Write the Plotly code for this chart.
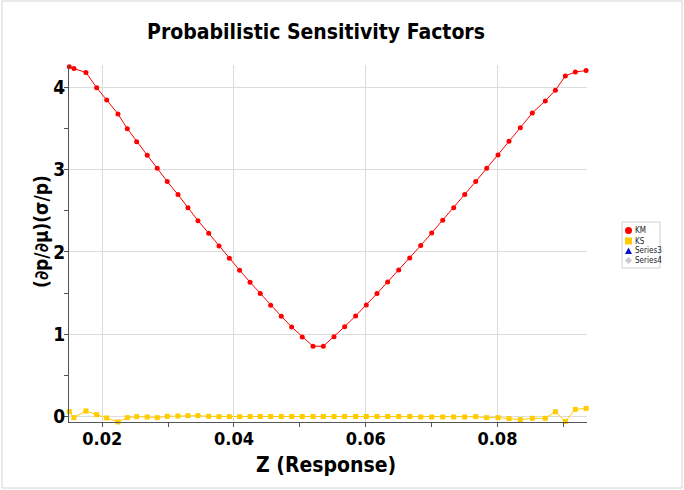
import plotly.graph_objects as go

# Response values (Z) shared by both sensitivity series
z_response = [
    0.01499, 0.01570, 0.01752, 0.01915, 0.02067, 0.02238, 0.02380, 0.02522, 0.02683, 0.02835,
    0.02987, 0.03150, 0.03301, 0.03453, 0.03616, 0.03772, 0.03930, 0.04085, 0.04244, 0.04399,
    0.04557, 0.04718, 0.04876, 0.05037, 0.05200, 0.05356, 0.05519, 0.05680, 0.05847, 0.06009,
    0.06171, 0.06333, 0.06501, 0.06668, 0.06835, 0.07002, 0.07169, 0.07336, 0.07503, 0.07670,
    0.07837, 0.08009, 0.08176, 0.08348, 0.08530, 0.08727, 0.08880, 0.09031, 0.09183, 0.09346,
]

km_values = [
    4.250, 4.226, 4.180, 3.995, 3.846, 3.676, 3.497, 3.339, 3.174, 3.016,
    2.854, 2.696, 2.538, 2.380, 2.227, 2.073, 1.923, 1.778, 1.632, 1.494,
    1.353, 1.219, 1.089, 0.968, 0.855, 0.855, 0.971, 1.093, 1.223, 1.356,
    1.494, 1.636, 1.781, 1.927, 2.077, 2.231, 2.385, 2.538, 2.696, 2.854,
    3.016, 3.178, 3.344, 3.509, 3.688, 3.834, 3.964, 4.137, 4.186, 4.202,
]

ks_values = [
    0.061, -0.012, 0.069, 0.024, -0.016, -0.064, -0.012, 0.000, -0.004, -0.012,
    0.004, 0.008, 0.012, 0.012, 0.004, 0.000, 0.000, 0.000, 0.002, 0.002,
    0.002, 0.002, 0.002, 0.002, 0.002, 0.002, 0.002, 0.002, 0.002, 0.002,
    0.002, 0.002, 0.002, 0.002, -0.004, -0.004, -0.004, -0.004, -0.004, 0.000,
    -0.012, -0.012, -0.024, -0.036, -0.020, -0.020, 0.060, -0.058, 0.088, 0.100,
]

x_ticks = [0.02, 0.04, 0.06, 0.08]
y_ticks = [0, 1, 2, 3, 4]

# Legend entries
legend_names = ["KM", "KS", "Series3", "Series4"]
legend_colors = ["#ff0000", "#ffcc00", "#1010d0", "#c8c8c8"]
legend_symbols = ["circle", "square", "triangle", "diamond"]

FONT = "DejaVu Sans Condensed, DejaVu Sans, sans-serif"
RED = legend_colors[0]
GOLD = legend_colors[1]

# Plot-area geometry in pixels, used to place the frame and the legend box
L, R, T, B = 69, 587, 65, 422
W, H = R - L, B - T


def px(xp):
    return (xp - L) / W


def py(yp):
    return (B - yp) / H


fig = go.Figure()

fig.add_trace(go.Scatter(
    x=z_response, y=km_values, mode="lines+markers", name="KM",
    line=dict(color=RED, width=1), marker=dict(color=RED, size=5, symbol="circle"),
    cliponaxis=False,
))
fig.add_trace(go.Scatter(
    x=z_response, y=ks_values, mode="lines+markers", name="KS",
    line=dict(color=GOLD, width=1), marker=dict(color=GOLD, size=5, symbol="square"),
    cliponaxis=False,
))

fig.update_layout(
    width=684, height=490,
    margin=dict(l=L, r=684 - R, t=T, b=490 - B),
    paper_bgcolor="white", plot_bgcolor="white",
    font=dict(family=FONT, color="black"),
    title=dict(
        text="<b>Probabilistic Sensitivity Factors</b>",
        x=316 / 684, xref="container", xanchor="center",
        y=1 - 32 / 490, yref="container", yanchor="middle",
        font=dict(size=21, family=FONT),
    ),
    showlegend=False,
    xaxis=dict(
        range=[0.01495, 0.0936], tickvals=x_ticks,
        ticktext=[f"<b>{v:.2f}</b>" for v in x_ticks],
        tickfont=dict(size=18, family=FONT),
        ticklabelstandoff=-4,
        showgrid=True, gridcolor="#dcdcdc", gridwidth=1,
        showline=True, linecolor="#555555", linewidth=1,
        ticks="outside", ticklen=4, tickcolor="#555555",
        minor=dict(dtick=0.01, tick0=0.0, ticks="outside", ticklen=4,
                   tickcolor="#555555", showgrid=False),
        zeroline=False,
    ),
    yaxis=dict(
        range=[-0.065, 4.27], tickvals=y_ticks,
        ticktext=[f"<b>{v}</b>" for v in y_ticks],
        tickfont=dict(size=19, family=FONT),
        ticklabelstandoff=-5,
        showgrid=True, gridcolor="#dcdcdc", gridwidth=1,
        showline=True, linecolor="#555555", linewidth=1,
        ticks="outside", ticklen=4, tickcolor="#555555",
        minor=dict(dtick=0.5, tick0=0.0, ticks="outside", ticklen=4,
                   tickcolor="#555555", showgrid=False),
        zeroline=False,
    ),
)

# Axis titles
fig.add_annotation(
    text="<b>Z (Response)</b>", xref="paper", yref="paper",
    x=px(326), y=py(465), xanchor="center", yanchor="middle",
    showarrow=False, font=dict(size=21, family=FONT),
)
fig.add_annotation(
    text="<b>(∂p/∂μ)(σ/p)</b>", xref="paper", yref="paper",
    x=px(41), y=py(232), xanchor="center", yanchor="middle",
    textangle=-90, showarrow=False, font=dict(size=19, family=FONT),
)

# Compact legend box on the right
fig.add_shape(
    type="rect", xref="paper", yref="paper",
    x0=px(622), x1=px(660), y0=py(268), y1=py(222),
    line=dict(color="#d0d0d0", width=1), fillcolor="white",
)
legend_rows = [230.5, 241, 251, 260.5]
legend_key_x = 628.5
for name, color, symbol, row in zip(legend_names, legend_colors, legend_symbols, legend_rows):
    cx, cy = legend_key_x, row
    if symbol == "circle":
        fig.add_shape(type="circle", xref="paper", yref="paper",
                      x0=px(cx - 3.5), x1=px(cx + 3.5), y0=py(cy + 3.5), y1=py(cy - 3.5),
                      line=dict(width=0), fillcolor=color)
    elif symbol == "square":
        fig.add_shape(type="rect", xref="paper", yref="paper",
                      x0=px(cx - 3.5), x1=px(cx + 3.5), y0=py(cy + 3.5), y1=py(cy - 3.5),
                      line=dict(width=0), fillcolor=color)
    elif symbol == "triangle":
        path = (f"M {px(cx - 3.5)} {py(cy + 3)} L {px(cx + 3.5)} {py(cy + 3)} "
                f"L {px(cx)} {py(cy - 3.5)} Z")
        fig.add_shape(type="path", xref="paper", yref="paper", path=path,
                      line=dict(width=0), fillcolor=color)
    else:
        path = (f"M {px(cx - 3.5)} {py(cy)} L {px(cx)} {py(cy - 3.5)} "
                f"L {px(cx + 3.5)} {py(cy)} L {px(cx)} {py(cy + 3.5)} Z")
        fig.add_shape(type="path", xref="paper", yref="paper", path=path,
                      line=dict(width=0), fillcolor=color)
    fig.add_annotation(
        text=name, xref="paper", yref="paper", x=px(633), y=py(row),
        xanchor="left", yanchor="middle", showarrow=False,
        font=dict(size=8, color="#222222", family=FONT),
    )

# Light frame around the whole canvas
fig.add_shape(
    type="rect", xref="paper", yref="paper",
    x0=px(2), x1=px(682), y0=py(488), y1=py(1),
    line=dict(color="#d4d4d4", width=1), fillcolor="rgba(0,0,0,0)", layer="below",
)

fig.write_html("out.html")
